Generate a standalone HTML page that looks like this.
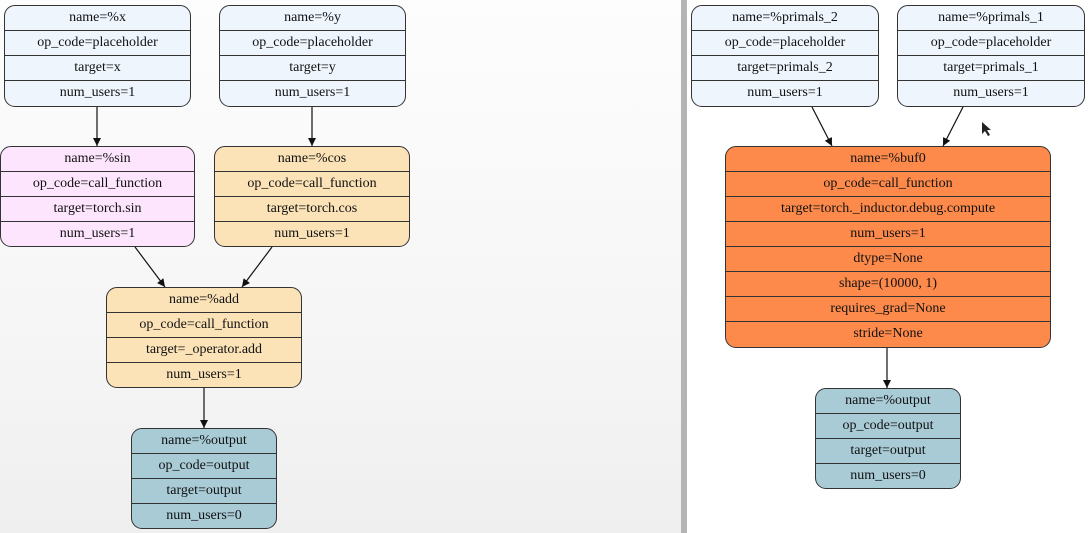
<!DOCTYPE html>
<html><head><meta charset="utf-8"><style>
body{margin:0;width:1089px;height:533px;position:relative;overflow:hidden;background:#fff;font-family:"Liberation Serif","DejaVu Serif",serif;}
.lp{position:absolute;left:0;top:0;width:681px;height:533px;background:linear-gradient(#fdfdfd,#f6f6f6 60%,#efefef);}
.div{position:absolute;left:681px;top:0;width:6px;height:533px;background:#b4b4b4;}
.n{position:absolute;border:1.3px solid #333;border-radius:11px;overflow:hidden;box-sizing:border-box;}
.n div{box-sizing:border-box;height:25px;line-height:24px;text-align:center;font-family:"Liberation Serif","DejaVu Serif",serif;font-size:14px;color:#111;border-top:1px solid #333;white-space:nowrap;}
.n div:first-child{border-top:none;height:24px;line-height:24px;}
.b{background:#eef5fd}.p{background:#fde6fd}.t{background:#fbe3b7}.g{background:#a8cbd6}.o{background:#fd8a4b}
svg{position:absolute;left:0;top:0;}
</style></head><body>
<div class="lp"></div><div class="div"></div>
<div class="n b" style="left:4px;top:5px;width:187px;height:102px"><div>name=%x</div><div>op_code=placeholder</div><div>target=x</div><div>num_users=1</div></div>
<div class="n b" style="left:219px;top:5px;width:187px;height:102px"><div>name=%y</div><div>op_code=placeholder</div><div>target=y</div><div>num_users=1</div></div>
<div class="n p" style="left:0px;top:146px;width:195px;height:101px"><div>name=%sin</div><div>op_code=call_function</div><div>target=torch.sin</div><div>num_users=1</div></div>
<div class="n t" style="left:214px;top:146px;width:196px;height:101px"><div>name=%cos</div><div>op_code=call_function</div><div>target=torch.cos</div><div>num_users=1</div></div>
<div class="n t" style="left:106px;top:287px;width:196px;height:101px"><div>name=%add</div><div>op_code=call_function</div><div>target=_operator.add</div><div>num_users=1</div></div>
<div class="n g" style="left:131px;top:428px;width:146px;height:101px"><div>name=%output</div><div>op_code=output</div><div>target=output</div><div>num_users=0</div></div>
<div class="n b" style="left:691px;top:5px;width:188px;height:102px"><div>name=%primals_2</div><div>op_code=placeholder</div><div>target=primals_2</div><div>num_users=1</div></div>
<div class="n b" style="left:897px;top:5px;width:188px;height:102px"><div>name=%primals_1</div><div>op_code=placeholder</div><div>target=primals_1</div><div>num_users=1</div></div>
<div class="n o" style="left:725px;top:146px;width:326px;height:202px"><div>name=%buf0</div><div>op_code=call_function</div><div>target=torch._inductor.debug.compute</div><div>num_users=1</div><div>dtype=None</div><div>shape=(10000, 1)</div><div>requires_grad=None</div><div>stride=None</div></div>
<div class="n g" style="left:815px;top:388px;width:146px;height:101px"><div>name=%output</div><div>op_code=output</div><div>target=output</div><div>num_users=0</div></div>
<svg width="1089" height="533">
<defs><marker id="a" markerWidth="8" markerHeight="8" refX="8" refY="4" orient="auto" markerUnits="userSpaceOnUse"><path d="M0,0L8,4L0,8z" fill="#111"/></marker></defs>
<g stroke="#111" stroke-width="1.2" marker-end="url(#a)">
<line x1="97" y1="107" x2="97" y2="146"/>
<line x1="312" y1="107" x2="312" y2="146"/>
<line x1="135" y1="247" x2="165" y2="287"/>
<line x1="272" y1="247" x2="242" y2="287"/>
<line x1="204" y1="388" x2="204" y2="428"/>
<line x1="812" y1="107" x2="832" y2="146"/>
<line x1="963" y1="107" x2="943" y2="146"/>
<line x1="887" y1="348" x2="887" y2="388"/>
</g>
<path d="M982,122 l0,12 l3,-3 l3,5 l2,-1 l-3,-5 l4,0z" fill="#222"/>
</svg>
</body></html>
